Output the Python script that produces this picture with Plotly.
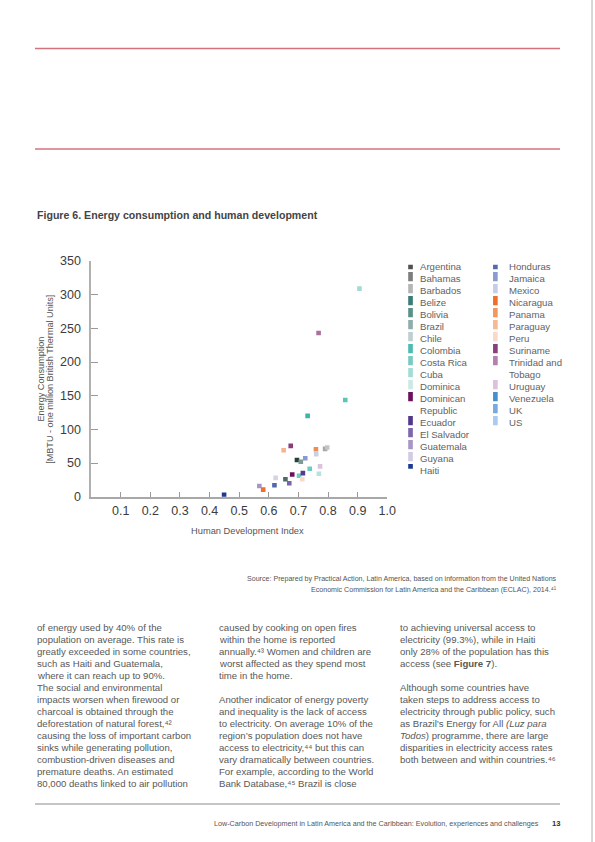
import plotly.graph_objects as go

W, H = 595, 842
FONT = "Liberation Sans"

# ---------------- data ----------------
COUNTRIES = ["Argentina", "Bahamas", "Barbados", "Belize", "Bolivia", "Brazil", "Chile",
             "Colombia", "Costa Rica", "Cuba", "Dominica", "Dominican\nRepublic", "Ecuador",
             "El Salvador", "Guatemala", "Guyana", "Haiti",
             "Honduras", "Jamaica", "Mexico", "Nicaragua", "Panama", "Paraguay", "Peru",
             "Suriname", "Trinidad and\nTobago", "Uruguay", "Venezuela", "UK", "US"]
LEGEND_COLORS = ["#505050", "#7d7d7d", "#b5b5b5", "#3b7d76", "#5b8f8a", "#8fadaa", "#bfcfd1",
                 "#4bbcb1", "#79cbc2", "#a3dcd5", "#cce9e5", "#6c0f5f", "#53388a",
                 "#7d66ab", "#a797c7", "#d1cce4", "#1b3b8f",
                 "#4f6cb2", "#8a9bcf", "#c5cde8", "#f06f2b", "#f5975a", "#f8b892", "#fbd9c8",
                 "#8b3e80", "#b57fae", "#dcc1dc", "#4690d0", "#78aadf", "#a8cbee"]
LEGEND_COL1_COUNT = 17

POINT_COUNTRY = ["US", "Trinidad and Tobago", "UK", "Venezuela", "Suriname", "Paraguay",
                 "Panama", "Mexico", "Bahamas", "Barbados", "Argentina", "Brazil", "Jamaica",
                 "Costa Rica", "Uruguay", "Cuba", "Guyana", "Bolivia", "Dominican Republic",
                 "El Salvador", "Colombia", "Ecuador", "Peru", "Honduras", "Guatemala",
                 "Nicaragua", "Haiti"]
HDI = [0.906, 0.768, 0.858, 0.731, 0.674, 0.650,
       0.759, 0.760, 0.790, 0.797, 0.695, 0.708, 0.723,
       0.738, 0.773, 0.769, 0.623, 0.656, 0.679,
       0.669, 0.702, 0.715, 0.713, 0.619, 0.568,
       0.581, 0.449]
ENERGY = [309, 243, 143.5, 120, 75.5, 69,
          70.5, 63, 71, 73, 54.5, 52, 57,
          41.5, 45, 34, 28, 26, 33,
          20, 31, 35, 26, 17, 16,
          10.5, 3]
POINT_COLORS = ["#a3dad6", "#a8729f", "#5cc4b8", "#3cb5a8", "#8a3d7c", "#f6b48e",
                "#ee8c55", "#c8d0e6", "#a6a6a6", "#c4c4c4", "#23413c", "#7f9995", "#8a9ad0",
                "#6ccbc1", "#dcc2dc", "#b5e3df", "#d7d3e6", "#4c6c68", "#6e0d5e",
                "#7963ab", "#6fcac1", "#553b8c", "#fbd9c6", "#5068b0", "#a795c5",
                "#ef6f2c", "#1e3a8c"]

X_TICKS = [0.1, 0.2, 0.3, 0.4, 0.5, 0.6, 0.7, 0.8, 0.9, 1.0]
Y_TICKS = [0, 50, 100, 150, 200, 250, 300, 350]

COL1 = ["of energy used by 40% of the",
        "population on average. This rate is",
        "greatly exceeded in some countries,",
        "such as Haiti and Guatemala,",
        "where it can reach up to 90%.",
        "The social and environmental",
        "impacts worsen when firewood or",
        "charcoal is obtained through the",
        "deforestation of natural forest,⁴²",
        "causing the loss of important carbon",
        "sinks while generating pollution,",
        "combustion-driven diseases and",
        "premature deaths. An estimated",
        "80,000 deaths linked to air pollution"]
COL2 = ["caused by cooking on open fires",
        "within the home is reported",
        "annually.⁴³ Women and children are",
        "worst affected as they spend most",
        "time in the home.",
        "",
        "Another indicator of energy poverty",
        "and inequality is the lack of access",
        "to electricity. On average 10% of the",
        "region’s population does not have",
        "access to electricity,⁴⁴ but this can",
        "vary dramatically between countries.",
        "For example, according to the World",
        "Bank Database,⁴⁵ Brazil is close"]
COL3 = ["to achieving universal access to",
        "electricity (99.3%), while in Haiti",
        "only 28% of the population has this",
        "access (see <b>Figure 7</b>).",
        "",
        "Although some countries have",
        "taken steps to address access to",
        "electricity through public policy, such",
        "as Brazil’s Energy for All <i>(Luz para</i>",
        "<i>Todos</i>) programme, there are large",
        "disparities in electricity access rates",
        "both between and within countries.⁴⁶"]


def px(x):
    return x / W


def py(y):
    return 1 - y / H


fig = go.Figure()

# main scatter
fig.add_trace(go.Scatter(
    x=HDI, y=ENERGY, mode="markers", text=POINT_COUNTRY,
    marker=dict(symbol="square", size=4.6, color=POINT_COLORS, line=dict(width=0)),
    hovertemplate="%{text}<br>HDI %{x}<br>%{y} MBTU<extra></extra>",
    showlegend=False, xaxis="x", yaxis="y"))

# legend (two columns) drawn on its own invisible axes
leg_x, leg_y, leg_col, text_rows = [], [], [], []
for col_start, col_end, col in [(0, LEGEND_COL1_COUNT, 0), (LEGEND_COL1_COUNT, len(COUNTRIES), 1)]:
    row = 0
    for i in range(col_start, col_end):
        lines = COUNTRIES[i].split("\n")
        leg_x.append(col)
        leg_y.append(row)
        leg_col.append(LEGEND_COLORS[i])
        for ln in lines:
            text_rows.append((col, row, ln))
            row += 1

fig.add_trace(go.Scatter(
    x=leg_x, y=leg_y, mode="markers",
    marker=dict(symbol="square", size=9.3, color=leg_col, line=dict(width=0)),
    hoverinfo="skip", showlegend=False, xaxis="x2", yaxis="y2"))

annotations = []
for col, row, ln in text_rows:
    annotations.append(dict(x=col, y=row, xref="x2", yref="y2", text=ln, showarrow=False,
                            xanchor="left", yanchor="middle", xshift=9.5, yshift=-1.5,
                            font=dict(family=FONT, size=9.6, color="#626262")))

# axis titles
annotations.append(dict(x=px(247), y=py(531), xref="paper", yref="paper",
                        text="Human Development Index", showarrow=False,
                        xanchor="center", yanchor="middle",
                        font=dict(family=FONT, size=9.3, color="#555555")))
annotations.append(dict(x=px(40.5), y=py(379), xref="paper", yref="paper",
                        text="Energy Consumption", showarrow=False, textangle=-90,
                        xanchor="center", yanchor="middle",
                        font=dict(family=FONT, size=9.1, color="#555555")))
annotations.append(dict(x=px(49.8), y=py(379), xref="paper", yref="paper",
                        text="[MBTU - one million British Thermal Units]", showarrow=False,
                        textangle=-90, xanchor="center", yanchor="middle",
                        font=dict(family=FONT, size=9.1, color="#555555")))

# figure title
annotations.append(dict(x=px(35), y=py(215), xref="paper", yref="paper",
                        text="<b>Figure 6. Energy consumption and human development</b>",
                        showarrow=False, xanchor="left", yanchor="middle",
                        font=dict(family=FONT, size=10.6, color="#444444")))

# source
annotations.append(dict(x=px(559), y=py(579), xref="paper", yref="paper",
                        text="Source: Prepared by Practical Action, Latin America, based on information from the United Nations",
                        showarrow=False, xanchor="right", yanchor="middle",
                        font=dict(family=FONT, size=7.1, color="#555555")))
annotations.append(dict(x=px(559), y=py(590), xref="paper", yref="paper",
                        text="Economic Commission for Latin America and the Caribbean (ECLAC), 2014.⁴¹",
                        showarrow=False, xanchor="right", yanchor="middle",
                        font=dict(family=FONT, size=7.1, color="#555555")))

# body text columns
for xcol, lines in [(35, COL1), (217, COL2), (398, COL3)]:
    for i, ln in enumerate(lines):
        if not ln:
            continue
        annotations.append(dict(x=px(xcol), y=py(627 + 12 * i), xref="paper", yref="paper",
                                text=ln, showarrow=False, xanchor="left", yanchor="middle",
                                font=dict(family=FONT, size=9.6, color="#585858")))

# footer
annotations.append(dict(x=px(541), y=py(823), xref="paper", yref="paper",
                        text="Low-Carbon Development in Latin America and the Caribbean: Evolution, experiences and challenges",
                        showarrow=False, xanchor="right", yanchor="middle",
                        font=dict(family=FONT, size=7.2, color="#555555")))
annotations.append(dict(x=px(550), y=py(823), xref="paper", yref="paper",
                        text="<b>13</b>", showarrow=False, xanchor="left", yanchor="middle",
                        font=dict(family=FONT, size=7.6, color="#333333")))

shapes = [
    dict(type="line", xref="paper", yref="paper", x0=px(35), x1=px(560), y0=py(48.5), y1=py(48.5),
         line=dict(color="#d4737c", width=1.4)),
    dict(type="line", xref="paper", yref="paper", x0=px(35), x1=px(560), y0=py(149), y1=py(149),
         line=dict(color="#d4737c", width=1.4)),
    dict(type="line", xref="paper", yref="paper", x0=px(35), x1=px(560), y0=py(804), y1=py(804),
         line=dict(color="#8a8a8a", width=1)),
    dict(type="line", xref="paper", yref="paper", x0=px(592), x1=px(592), y0=0, y1=1,
         line=dict(color="#b0b0b0", width=1)),
]

fig.update_layout(
    width=W, height=H, margin=dict(l=0, r=0, t=0, b=0, autoexpand=False),
    paper_bgcolor="white", plot_bgcolor="white", showlegend=False,
    font=dict(family=FONT),
    xaxis=dict(domain=[px(91.1), px(387.3)], range=[0, 1.0], tickvals=X_TICKS,
               ticktext=[f"{v:.1f}" for v in X_TICKS], ticks="inside", ticklen=5,
               tickwidth=1, tickcolor="#9a9a9a", showline=True, linecolor="#a8a8a8",
               linewidth=1.8, showgrid=False, zeroline=False, fixedrange=True,
               automargin=False,
               tickfont=dict(family=FONT, size=12.5, color="#3c3c3c"),
               ticklabelstandoff=1),
    yaxis=dict(domain=[py(496.7), py(261)], range=[0, 350], tickvals=Y_TICKS,
               ticks="inside", ticklen=7, tickwidth=1, tickcolor="#9a9a9a",
               showline=True, linecolor="#b0b0b0", linewidth=1.5, showgrid=False,
               zeroline=False, fixedrange=True, automargin=False,
               tickfont=dict(family=FONT, size=12.5, color="#3c3c3c"),
               ticklabelstandoff=6),
    xaxis2=dict(domain=[px(408.2), px(497.7)], range=[0, 1], visible=False,
                fixedrange=True, anchor="y2", automargin=False),
    yaxis2=dict(domain=[py(264.7 + 12 * 17), py(264.7)], range=[17, 0], visible=False,
                fixedrange=True, anchor="x2", automargin=False),
    annotations=annotations, shapes=shapes,
)

POST = (
    "var de=document.documentElement, b=document.body;"
    "de.style.margin='0';de.style.padding='0';de.style.overflow='hidden';"
    "b.style.margin='0';b.style.padding='0';b.style.overflow='hidden';"
)
fig.write_html("out.html", config={"displayModeBar": False}, post_script=POST)
